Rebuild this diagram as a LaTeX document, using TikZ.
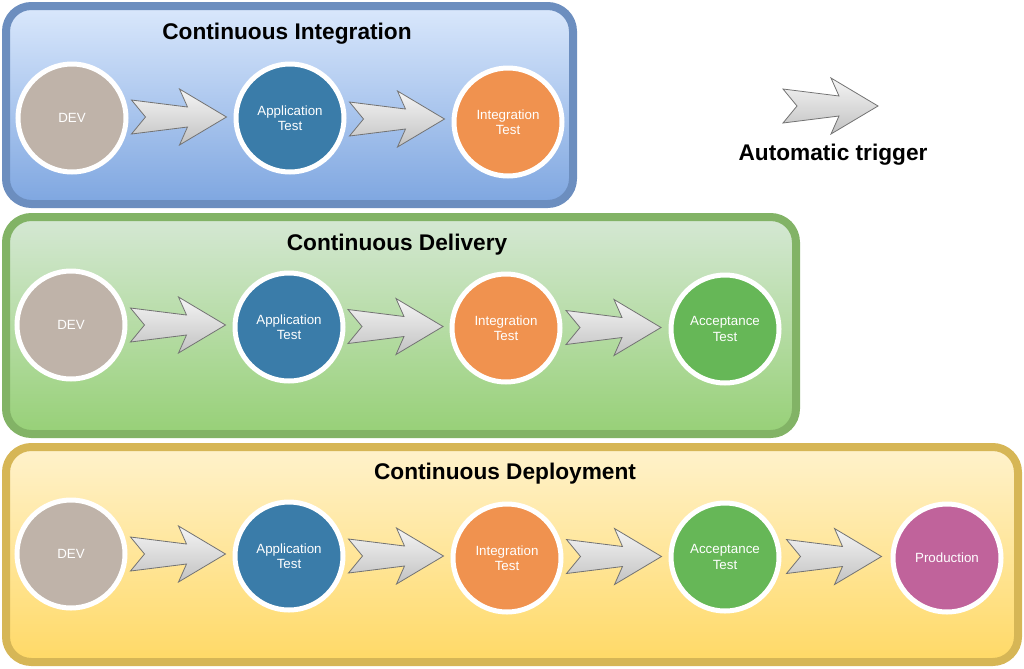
\documentclass[tikz,border=0pt]{standalone}
\usepackage{fontspec}
\setmainfont{Liberation Sans}
\usepackage{tikz}
\usetikzlibrary{calc}
\definecolor{devc}{HTML}{BFB3A9}
\definecolor{appc}{HTML}{3A7CA9}
\definecolor{intc}{HTML}{F0924F}
\definecolor{accc}{HTML}{66B757}
\definecolor{proc}{HTML}{C0639B}
\definecolor{ciedge}{HTML}{6C8EBF}
\definecolor{citop}{HTML}{DAE8FC}
\definecolor{cibot}{HTML}{7EA6E0}
\definecolor{cdedge}{HTML}{82B366}
\definecolor{cdtop}{HTML}{D5E8D4}
\definecolor{cdbot}{HTML}{97D077}
\definecolor{dpedge}{HTML}{D6B656}
\definecolor{dptop}{HTML}{FFF2CC}
\definecolor{dpbot}{HTML}{FFD966}
\tikzset{
  stage/.style={circle, draw=white, line width=3.75pt, minimum size=81pt, inner sep=0pt,
    align=center, text=white, font=\fontsize{10}{11.5}\selectfont},
  band/.style={line width=6pt, rounded corners=19pt},
  title/.style={font=\bfseries\fontsize{17}{20}\selectfont},
  arrowbody/.style={draw=black!55, line width=0.6pt, top color=black!4, bottom color=black!24},
  pics/trigger/.style={code={
    \draw[arrowbody] (-47.5,-17) -- (8.5,-10) -- (0.5,-28) -- (47.5,0) -- (0.5,28)
      -- (8.5,10) -- (-47.5,17) -- (-33.5,0) -- cycle;
  }},
}
\newcommand{\trig}[2]{\path pic at ($(#1)!0.5!(#2)+(-2,-1)$) {trigger};}

\begin{document}
\begin{tikzpicture}[x=0.75pt, y=-0.75pt]
  \useasboundingbox (0,0) rectangle (1024,668);

  % the three pipelines
  \draw[band, draw=ciedge, top color=citop, bottom color=cibot] (6,6) rectangle (573,204);
  \draw[band, draw=cdedge, top color=cdtop, bottom color=cdbot] (6,217) rectangle (796,434);
  \draw[band, draw=dpedge, top color=dptop, bottom color=dpbot] (6,447) rectangle (1018,662);

  \node[title] (ci) at (287,34) {Continuous Integration};
  \node[title] (cd) at (397,245) {Continuous Delivery};
  \node[title] (dp) at (505,474) {Continuous Deployment};

  % continuous integration
  \node[stage, fill=devc] (dev1) at (72,118) {DEV};
  \node[stage, fill=appc] (app1) at (290,118) {Application\\Test};
  \node[stage, fill=intc] (int1) at (508,122) {Integration\\Test};
  \trig{dev1}{app1}
  \trig{app1}{int1}

  % continuous delivery
  \node[stage, fill=devc] (dev2) at (71,325) {DEV};
  \node[stage, fill=appc] (app2) at (289,327) {Application\\Test};
  \node[stage, fill=intc] (int2) at (506,328) {Integration\\Test};
  \node[stage, fill=accc] (acc2) at (725,329) {Acceptance\\Test};
  \trig{dev2}{app2}
  \trig{app2}{int2}
  \trig{int2}{acc2}

  % continuous deployment
  \node[stage, fill=devc] (dev3) at (71,554) {DEV};
  \node[stage, fill=appc] (app3) at (289,556) {Application\\Test};
  \node[stage, fill=intc] (int3) at (507,558) {Integration\\Test};
  \node[stage, fill=accc] (acc3) at (725,557) {Acceptance\\Test};
  \node[stage, fill=proc] (prod3) at (947,558) {Production};
  \trig{dev3}{app3}
  \trig{app3}{int3}
  \trig{int3}{acc3}
  \trig{acc3}{prod3}

  % legend
  \coordinate (key) at (830.5,106);
  \path pic at (key) {trigger};
  \node[font=\bfseries\fontsize{17}{20}\selectfont] (keytext) at (833,155) {Automatic trigger};
\end{tikzpicture}
\end{document}
